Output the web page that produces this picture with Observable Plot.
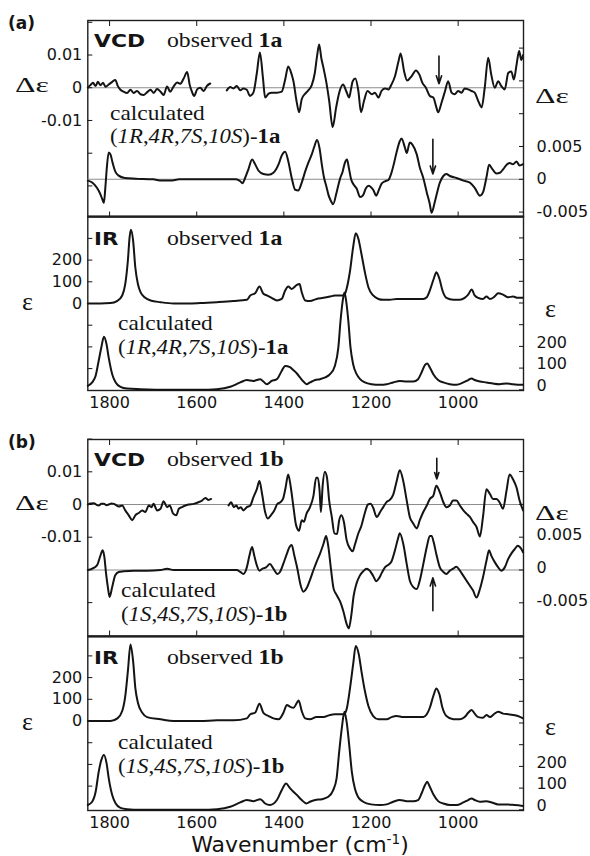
<!DOCTYPE html>
<html><head><meta charset="utf-8">
<script src="https://cdn.jsdelivr.net/npm/d3@7"></script>
<script src="https://cdn.jsdelivr.net/npm/@observablehq/plot@0.6"></script>
<style>
body{margin:0;background:#fff;}
#chart{position:relative;width:590px;height:856px;overflow:hidden;background:#fff;}
</style></head><body><div id="chart"></div>
<script>
// ---------- axis values ----------
const xDomain = [1850, 850];
const xTicks = [1800, 1600, 1400, 1200, 1000];
const vcdObsTicks = [0.02, 0.01, 0, -0.01, -0.02, -0.03];
const vcdObsLabels = [[0.01, "0.01"], [0, "0"], [-0.01, "-0.01"]];
const vcdCalcTicksA = [0.02, 0.015, 0.01, 0.005, 0, -0.005];
const vcdCalcTicksB = [0.015, 0.01, 0.005, 0, -0.005];
const vcdCalcLabels = [[0.005, "0.005"], [0, "0"], [-0.005, "-0.005"]];
const irObsTicks = [300, 200, 100, 0, -100, -200, -300];
const irObsLabels = [[200, "200"], [100, "100"], [0, "0"]];
const irCalcTicks = [700, 600, 500, 400, 300, 200, 100, 0];
const irCalcLabels = [[200, "200"], [100, "100"], [0, "0"]];

// ---------- texts ----------
const panelTags = ["(a)", "(b)"];
const compounds = ["1a", "1b"];
const configA = ["1R", "4R", "7S", "10S"];
const configB = ["1S", "4S", "7S", "10S"];
const xTitle = ["Wavenumber (cm", "-1", ")"];

// ---------- series: [wavenumber, value] ----------
const vcdObsA = [[1850,0],[1844,0.0008],[1838,0.0015],[1832,0.0005],[1827,0.0018],[1821,0.0008],[1815,0.0015],[1809,0.0003],[1802,0.001],[1794,0.0018],[1787,0.0024],[1781,0.0005],[1775,-0.0006],[1768,-0.0012],[1760,-0.0016],[1752,-0.0006],[1745,-0.0016],[1737,-0.001],[1729,-0.002],[1722,-0.0022],[1714,-0.0014],[1706,-0.0006],[1699,-0.0016],[1691,-0.0004],[1683,-0.0012],[1676,-0.0022],[1668,0.0004],[1661,-0.0012],[1653,0.0004],[1645,0.0016],[1638,0.0012],[1630,0.0028],[1622,0.0048],[1616,0.0008],[1611,-0.0012],[1606,-0.0025],[1599,-0.0005],[1592,0],[1584,-0.001],[1577,0.0005],[1569,0.0013],[1550,null],[1531,-0.0008],[1523,0.0002],[1516,-0.0002],[1508,0.0005],[1500,-0.0008],[1493,-0.0002],[1485,-0.0006],[1478,-0.0025],[1470,-0.0015],[1462,0.0045],[1455,0.0108],[1448,0.003],[1443,-0.003],[1435,-0.0018],[1428,-0.0015],[1416,-0.0015],[1405,-0.0012],[1397,0.0025],[1390,0.0065],[1382,0.004],[1378,0.002],[1371,-0.004],[1365,-0.0075],[1359,-0.0035],[1351,-0.0018],[1344,-0.0008],[1336,0.0008],[1329,0.0045],[1324,0.0095],[1319,0.0132],[1314,0.009],[1309,0.006],[1303,0.002],[1296,-0.004],[1288,-0.012],[1280,-0.006],[1273,-0.0015],[1264,0.001],[1257,-0.001],[1250,-0.003],[1246,-0.0005],[1242,0.002],[1236,0.0028],[1229,-0.001],[1223,-0.0075],[1216,-0.004],[1208,-0.001],[1198,-0.002],[1191,-0.0015],[1183,-0.003],[1176,-0.001],[1168,-0.0002],[1160,-0.0005],[1153,0.001],[1145,0.0035],[1137,0.008],[1132,0.0105],[1124,0.005],[1117,0.0022],[1107,0.0035],[1097,0.0053],[1089,0.004],[1082,0.0015],[1074,0],[1065,-0.0025],[1057,-0.003],[1050,-0.006],[1046,-0.0075],[1038,-0.0045],[1030,-0.001],[1023,0.002],[1015,-0.0015],[1008,-0.002],[1000,-0.001],[992,-0.0015],[985,-0.0002],[977,-0.0005],[969,-0.001],[962,-0.0015],[954,-0.004],[946,-0.006],[939,0],[931,0.0092],[924,0.004],[916,0],[908,0.002],[901,0.0005],[893,-0.0005],[885,0.0045],[878,0.005],[872,0.0025],[866,0.007],[860,0.0112],[855,0.0085],[851,0.01]];

const vcdCalcA = [[1850,-0.0002],[1840,-0.0005],[1829,-0.0013],[1821,-0.0023],[1817,-0.003],[1813,-0.0036],[1810,-0.0015],[1806,0.002],[1802,0.0041],[1798,0.0038],[1793,0.0025],[1787,0.0012],[1780,0.0006],[1765,0.0002],[1740,0.0001],[1700,0],[1680,-0.0002],[1660,-0.0002],[1640,0],[1600,0],[1550,0],[1510,0],[1500,-0.0003],[1495,-0.0006],[1489,0.0002],[1481,0.0016],[1473,0.003],[1466,0.0023],[1458,0.0013],[1447,0.0008],[1435,0.0007],[1424,0.001],[1412,0.0023],[1405,0.0036],[1397,0.0042],[1390,0.0028],[1382,0.0002],[1374,-0.0016],[1367,-0.0017],[1359,-0.0005],[1351,0.0012],[1344,0.0025],[1336,0.0038],[1330,0.005],[1324,0.006],[1318,0.0047],[1313,0.0023],[1308,0.0003],[1302,-0.0012],[1298,-0.0023],[1292,-0.0033],[1287,-0.0038],[1279,-0.002],[1271,0.0001],[1265,0.0012],[1260,0.0025],[1255,0.003],[1251,0.0018],[1246,0.0001],[1240,-0.0008],[1233,-0.0014],[1225,-0.0027],[1218,-0.0024],[1212,-0.0014],[1205,-0.001],[1200,-0.0012],[1195,-0.0016],[1188,-0.0025],[1183,-0.0018],[1176,-0.0007],[1168,-0.0003],[1160,-0.0001],[1153,0.001],[1147,0.0025],[1141,0.0042],[1134,0.0058],[1130,0.0062],[1122,0.0048],[1118,0.004],[1111,0.0056],[1105,0.0053],[1095,0.0038],[1088,0.0018],[1080,0.0002],[1072,-0.002],[1065,-0.0038],[1061,-0.0051],[1053,-0.0033],[1042,-0.0005],[1034,0.0005],[1027,0.0008],[1019,0.0005],[1004,0.0002],[988,-0.0002],[973,-0.0005],[962,-0.0013],[950,-0.0025],[943,-0.002],[935,0.0003],[929,0.0022],[921,0.0015],[912,0.0009],[904,0.001],[897,0.0015],[889,0.0022],[882,0.0025],[874,0.0023],[866,0.0027],[859,0.0021],[851,0.0023]];

const irObsA = [[1850,0],[1821,0],[1798,2],[1783,11],[1771,37],[1764,90],[1758,198],[1754,307],[1751,340],[1746,290],[1741,167],[1735,90],[1729,52],[1718,26],[1706,14],[1683,6],[1653,0],[1622,0],[1592,2],[1554,6],[1516,11],[1485,17],[1477,37],[1466,47],[1456,78],[1447,45],[1439,37],[1428,26],[1416,14],[1405,21],[1397,60],[1390,78],[1382,67],[1370,86],[1364,90],[1359,52],[1351,14],[1340,11],[1325,21],[1309,26],[1294,32],[1283,37],[1262,37],[1256,68],[1248,152],[1241,260],[1235,324],[1229,298],[1222,229],[1214,144],[1206,75],[1195,37],[1183,21],[1172,17],[1157,17],[1141,21],[1126,21],[1111,21],[1095,21],[1080,21],[1072,29],[1065,60],[1056,114],[1050,144],[1043,114],[1036,60],[1027,26],[1011,17],[996,17],[985,26],[977,41],[969,64],[962,37],[954,26],[943,21],[935,32],[927,21],[918,29],[908,47],[897,41],[885,29],[874,32],[863,26],[851,26]];

const irCalcA = [[1850,18],[1840,34],[1832,65],[1825,134],[1819,195],[1813,244],[1807,210],[1802,148],[1794,72],[1786,34],[1775,14],[1760,6],[1729,3],[1668,0],[1592,0],[1554,3],[1523,14],[1500,34],[1485,45],[1470,41],[1454,49],[1447,38],[1439,26],[1428,41],[1416,49],[1405,87],[1397,110],[1386,104],[1378,90],[1370,75],[1363,57],[1355,38],[1348,26],[1340,34],[1328,45],[1317,49],[1305,57],[1294,72],[1283,110],[1275,194],[1270,317],[1265,409],[1261,448],[1257,409],[1252,317],[1247,194],[1241,118],[1233,72],[1225,49],[1214,34],[1199,26],[1179,23],[1164,26],[1149,34],[1134,41],[1118,38],[1103,38],[1092,49],[1084,80],[1076,115],[1071,121],[1065,103],[1057,72],[1046,45],[1034,34],[1019,26],[1004,23],[988,34],[977,45],[969,52],[962,45],[950,38],[935,34],[920,29],[905,26],[889,29],[874,26],[859,23],[851,23]];

const vcdObsB = [[1850,0],[1843,0.0003],[1836,0.0004],[1830,-0.0001],[1825,-0.0003],[1819,0.0002],[1813,0.0002],[1807,-0.0002],[1802,0],[1796,0.0003],[1790,0.0002],[1785,-0.0002],[1779,-0.0006],[1771,-0.0003],[1764,-0.0018],[1756,-0.0033],[1748,-0.0048],[1741,-0.0033],[1733,-0.0026],[1725,-0.0018],[1718,-0.0023],[1710,-0.0003],[1704,-0.0008],[1699,0.0002],[1691,-0.0018],[1683,-0.0013],[1676,0.001],[1668,-0.0008],[1662,-0.0003],[1654,-0.0028],[1647,-0.0033],[1641,-0.0013],[1634,-0.0008],[1626,-0.0003],[1619,0],[1607,0.0002],[1596,0.0007],[1588,0.0012],[1580,0.002],[1573,0.0014],[1567,0.0017],[1550,null],[1527,-0.0003],[1521,0.0007],[1515,-0.0008],[1509,-0.0003],[1504,-0.0013],[1499,-0.0008],[1493,-0.0018],[1485,-0.0008],[1477,-0.0003],[1470,0.0022],[1462,0.0047],[1456,0.0072],[1450,0.0032],[1443,-0.0023],[1437,-0.0043],[1430,-0.0033],[1422,-0.0018],[1415,0.0002],[1408,0.0007],[1402,0.0017],[1396,0.0052],[1390,0.0092],[1384,0.0052],[1378,-0.0008],[1372,-0.0063],[1365,-0.008],[1359,-0.0048],[1354,-0.0053],[1348,-0.0028],[1340,-0.0008],[1332,0.0027],[1326,0.0082],[1322,0.0082],[1318,0.0042],[1315,-0.0023],[1311,0.0057],[1306,0.01],[1301,0.0082],[1296,0.0012],[1290,-0.0038],[1284,-0.0088],[1278,-0.009],[1273,-0.0048],[1268,-0.0033],[1262,-0.0055],[1256,-0.0108],[1248,-0.0135],[1242,-0.0143],[1237,-0.0123],[1229,-0.0088],[1222,-0.0065],[1214,-0.0025],[1207,0],[1201,0.0002],[1195,-0.001],[1187,-0.0038],[1179,-0.0023],[1172,-0.0008],[1164,0.0008],[1157,0.0014],[1149,0.003],[1141,0.0072],[1134,0.0105],[1126,0.0072],[1118,0.0012],[1111,-0.0038],[1103,-0.0058],[1095,-0.0073],[1088,-0.0048],[1080,-0.0023],[1072,-0.0003],[1065,0.0017],[1057,0.0027],[1050,0.0057],[1042,0.0037],[1034,0.0007],[1027,-0.0008],[1019,-0.0003],[1012,0.0012],[1004,0.0012],[996,-0.0003],[988,-0.0018],[981,-0.0028],[973,-0.0038],[966,-0.0053],[958,-0.0068],[950,-0.0098],[943,-0.0038],[935,0.0047],[927,0.0032],[920,0.0017],[912,0.0017],[905,0.0007],[897,-0.0013],[889,0.0042],[882,0.0092],[874,0.0077],[866,0.0052],[859,0.0012],[851,-0.0018]];

const vcdCalcB = [[1850,0],[1840,0.0002],[1829,0.0007],[1821,0.0022],[1816,0.003],[1812,0.002],[1808,-0.0006],[1804,-0.0026],[1800,-0.0041],[1794,-0.0026],[1787,-0.0008],[1779,-0.0003],[1768,-0.0002],[1745,-0.0001],[1714,-0.0001],[1683,0],[1668,0.0002],[1653,0],[1600,0],[1550,0],[1508,0],[1500,-0.0003],[1493,-0.0006],[1485,0.0004],[1479,0.0022],[1473,0.0035],[1468,0.0022],[1462,0.0007],[1456,-0.0001],[1449,0.0002],[1441,0.0004],[1432,0.0009],[1424,0.0002],[1415,-0.0006],[1409,-0.0003],[1401,0.001],[1393,0.0025],[1387,0.0035],[1382,0.0038],[1376,0.0022],[1369,0.0002],[1362,-0.0022],[1355,-0.0033],[1348,-0.0028],[1340,-0.0015],[1332,0],[1324,0.0014],[1317,0.0025],[1309,0.004],[1303,0.0052],[1298,0.0036],[1292,0.0002],[1286,-0.0028],[1279,-0.0038],[1271,-0.0048],[1263,-0.0064],[1256,-0.0082],[1251,-0.0089],[1245,-0.0068],[1240,-0.004],[1233,-0.002],[1226,-0.0009],[1218,-0.0002],[1210,0.0002],[1203,-0.0001],[1195,-0.0009],[1188,-0.0017],[1181,-0.0012],[1175,-0.0004],[1168,0.0004],[1160,0.0008],[1153,0.0013],[1145,0.003],[1138,0.0048],[1134,0.0056],[1126,0.004],[1118,0.0009],[1111,-0.0016],[1103,-0.0026],[1095,-0.0029],[1088,-0.0016],[1080,0.0009],[1072,0.0035],[1065,0.0052],[1061,0.0052],[1056,0.0042],[1050,0.0024],[1042,0.0004],[1034,-0.0003],[1027,-0.0006],[1019,-0.0001],[1011,0.0002],[1004,0.0005],[996,-0.0001],[988,-0.0009],[981,-0.0016],[973,-0.0024],[966,-0.0031],[958,-0.0042],[950,-0.0029],[943,-0.0011],[935,0.0014],[929,0.003],[924,0.0022],[916,0.0012],[908,0.0004],[901,-0.0001],[893,0.0004],[885,0.0017],[878,0.0025],[870,0.0032],[863,0.0037],[855,0.0032],[851,0.0027]];

const irObsB = [[1850,0],[1798,0],[1782,12],[1771,46],[1764,115],[1758,230],[1752,353],[1746,276],[1741,154],[1735,84],[1725,38],[1714,18],[1683,8],[1653,0],[1592,0],[1553,3],[1515,3],[1485,12],[1477,31],[1466,38],[1456,80],[1447,38],[1435,23],[1424,12],[1412,8],[1401,38],[1393,74],[1386,66],[1378,61],[1370,84],[1366,95],[1359,46],[1351,12],[1340,8],[1325,18],[1309,18],[1294,28],[1283,31],[1262,31],[1256,54],[1248,154],[1241,261],[1235,346],[1228,307],[1222,230],[1214,138],[1206,69],[1195,23],[1183,8],[1164,8],[1153,18],[1141,23],[1126,18],[1111,18],[1095,18],[1080,18],[1072,31],[1065,61],[1057,115],[1050,150],[1043,123],[1036,61],[1027,23],[1011,8],[996,8],[985,18],[977,38],[969,51],[962,34],[954,18],[943,15],[935,28],[927,18],[918,31],[908,43],[897,34],[885,31],[874,28],[863,23],[851,12]];

const irCalcB = [[1850,22],[1840,37],[1832,83],[1825,175],[1819,229],[1813,252],[1807,215],[1802,146],[1794,68],[1786,29],[1775,9],[1760,3],[1729,0],[1592,0],[1553,3],[1523,14],[1500,34],[1485,45],[1470,40],[1454,49],[1443,29],[1432,22],[1416,45],[1405,90],[1395,121],[1386,100],[1378,83],[1370,68],[1359,45],[1348,29],[1340,37],[1328,45],[1313,49],[1298,60],[1287,90],[1279,145],[1273,268],[1267,376],[1261,452],[1256,406],[1250,298],[1244,175],[1237,98],[1230,60],[1218,37],[1200,25],[1179,22],[1164,25],[1149,37],[1134,45],[1118,40],[1103,40],[1092,45],[1084,75],[1076,114],[1071,129],[1065,106],[1056,68],[1046,40],[1034,29],[1019,22],[1004,22],[988,34],[977,45],[969,52],[962,45],[950,37],[935,40],[923,34],[908,25],[889,25],[870,22],[851,18]];

// arrows marking the ~1050 cm-1 band
const arrowObsA = [{x: 1044, y1: 0.0097, y2: 0.0012}];
const arrowCalcA = [{x: 1058, y1: 0.0061, y2: 0.0008}];
const arrowObsB = [{x: 1049, y1: 0.0141, y2: 0.0078}];
const arrowCalcB = [{x: 1058, y1: -0.0062, y2: -0.0012}];

// ---------- layout ----------
const panels = [
  {vcdTop: 19.5, vcdH: 196.5, irTop: 216, irH: 174,
   vcdObsDomain: [-0.0395, 0.02055], vcdCalcDomain: [-0.00575, 0.02421],
   irObsDomain: [-400.9, 400.9], irCalcDomain: [-3.2, 798.6],
   vcdObs: vcdObsA, vcdCalc: vcdCalcA, irObs: irObsA, irCalc: irCalcA,
   arrowObs: arrowObsA, arrowCalc: arrowCalcA, calcTicks: vcdCalcTicksA, calcDy: 0},
  {vcdTop: 439, vcdH: 196.5, irTop: 635.5, irH: 174,
   vcdObsDomain: [-0.04021, 0.01988], vcdCalcDomain: [-0.01006, 0.01989],
   irObsDomain: [-412.4, 389.4], irCalcDomain: [-3.2, 798.6],
   vcdObs: vcdObsB, vcdCalc: vcdCalcB, irObs: irObsB, irCalc: irCalcB,
   arrowObs: arrowObsB, arrowCalc: arrowCalcB, calcTicks: vcdCalcTicksB, calcDy: -2}
];

const chart = document.getElementById("chart");
const INK = "#141414";

function layer(top, height, xOpt, yOpt, marks) {
  const mt = 8, mb = 8;
  const svg = Plot.plot({
    width: 590, height: height + mt + mb,
    marginTop: mt, marginBottom: mb, marginLeft: 87.3, marginRight: 67,
    x: {domain: xDomain, label: null, ...xOpt},
    y: {label: null, ...yOpt},
    style: {background: "transparent", fontFamily: "DejaVu Sans", fontSize: "16px", color: INK, overflow: "visible"},
    marks
  });
  svg.style.position = "absolute";
  svg.style.left = "0px";
  svg.style.top = (top - mt) + "px";
  chart.appendChild(svg);
}
const lookup = (pairs) => { const m = new Map(pairs); return d => m.get(d) ?? ""; };
const spec = (data) => Plot.line(data, {x: d => d[0], y: d => d[1], stroke: INK, strokeWidth: 2, curve: "monotone-x"});
const zero = () => Plot.ruleY([0], {stroke: "#8c8c8c", strokeWidth: 1.1});
const arrow = (data) => Plot.arrow(data, {x1: "x", x2: "x", y1: "y1", y2: "y2", stroke: INK, strokeWidth: 1.6, headLength: 8, headAngle: 36});
const blank = () => "";

panels.forEach((P) => {
  // VCD observed (left axis)
  layer(P.vcdTop, P.vcdH, {}, {domain: P.vcdObsDomain}, [
    zero(),
    spec(P.vcdObs),
    arrow(P.arrowObs),
    Plot.axisY(vcdObsTicks, {anchor: "left", tickSize: -5, tickFormat: blank}),
    Plot.axisY(vcdObsLabels.map(d => d[0]), {anchor: "left", tickSize: 0, tickPadding: 5.5, tickFormat: lookup(vcdObsLabels)}),
    Plot.axisX(xTicks, {anchor: "top", tickSize: -5, tickFormat: blank}),
    Plot.axisX(xTicks, {anchor: "bottom", tickSize: -5, tickFormat: blank}),
    Plot.frame({stroke: "#1e1e1e", strokeWidth: 1.4})
  ]);
  // VCD calculated (right axis)
  layer(P.vcdTop, P.vcdH, {axis: null}, {domain: P.vcdCalcDomain}, [
    zero(),
    spec(P.vcdCalc),
    arrow(P.arrowCalc),
    Plot.axisY(P.calcTicks, {anchor: "right", tickSize: -5, tickFormat: blank}),
    Plot.axisY(vcdCalcLabels.map(d => d[0]), {anchor: "right", tickSize: 0, tickPadding: 13, dy: P.calcDy, tickFormat: lookup(vcdCalcLabels)})
  ]);
  // IR observed (left axis) + wavenumber tick labels
  layer(P.irTop, P.irH, {}, {domain: P.irObsDomain}, [
    spec(P.irObs),
    Plot.axisY(irObsTicks, {anchor: "left", tickSize: -5, tickFormat: blank}),
    Plot.axisY(irObsLabels.map(d => d[0]), {anchor: "left", tickSize: 0, tickPadding: 5.5, tickFormat: lookup(irObsLabels)}),
    Plot.axisX(xTicks, {anchor: "bottom", tickSize: 0, tickPadding: 6, tickFormat: d => String(d)}),
    Plot.frame({stroke: "#1e1e1e", strokeWidth: 1.4}),
    Plot.ruleY([P.irObsDomain[1]], {stroke: "#1e1e1e", strokeWidth: 2.2})
  ]);
  // IR calculated (right axis)
  layer(P.irTop, P.irH, {axis: null}, {domain: P.irCalcDomain}, [
    spec(P.irCalc),
    Plot.axisY(irCalcTicks, {anchor: "right", tickSize: -5, tickFormat: blank}),
    Plot.axisY(irCalcLabels.map(d => d[0]), {anchor: "right", tickSize: 0, tickPadding: 13, dy: -4, tickFormat: lookup(irCalcLabels)})
  ]);
});

// ---------- text annotations ----------
const over = d3.create("svg").attr("width", 590).attr("height", 856)
  .style("position", "absolute").style("left", "0px").style("top", "0px").style("overflow", "visible");
chart.appendChild(over.node());
const SERIF = "Liberation Serif", SANS = "DejaVu Sans";
function addText(x, y, parts, size, family, sx = 1, anchor = "start") {
  const t = over.append("text")
    .attr("transform", `translate(${x},${y}) scale(${sx},1)`)
    .attr("font-family", family).attr("font-size", size).attr("fill", INK).attr("text-anchor", anchor);
  let shifted = false;
  for (const [s, st] of parts) {
    const ts = t.append("tspan").text(s);
    if (st === "b") ts.attr("font-weight", "bold");
    if (st === "i") ts.attr("font-style", "italic");
    if (st === "sup") { ts.attr("font-size", size * 0.62).attr("dy", -size * 0.38); shifted = true; }
    else if (shifted) { ts.attr("dy", size * 0.38); shifted = false; }
  }
}
function configParts(cfg, cmp) {
  const parts = [["(", "n"]];
  cfg.forEach((c, i) => { parts.push([c, "i"]); if (i < cfg.length - 1) parts.push([",", "n"]); });
  parts.push([")-", "n"], [cmp, "b"]);
  return parts;
}
const labelPos = [
  {tag: 29, vcd: 47, ir: 245, dL: 92, dR: 103, eL: 310, eR: 317,
   vcalc: [110, 119.5, 142.5], icalc: [118, 330, 353.5], cfg: configA},
  {tag: 448, vcd: 466, ir: 663.5, dL: 510, dR: 519.5, eL: 730, eR: 735,
   vcalc: [121, 597, 620.5], icalc: [118, 749, 772.5], cfg: configB}
];
const CS = 20, CX = 1.17;
labelPos.forEach((L, k) => {
  addText(8, L.tag, [[panelTags[k], "b"]], 17, SANS);
  addText(94, L.vcd, [["VCD", "b"]], 18.5, SANS, 1.18);
  addText(167, L.vcd, [["observed ", "n"], [compounds[k], "b"]], 21, SERIF, 1.13);
  addText(94, L.ir, [["IR", "b"]], 18.5, SANS, 1.15);
  addText(167, L.ir, [["observed ", "n"], [compounds[k], "b"]], 21, SERIF, 1.13);
  addText(L.vcalc[0], L.vcalc[1], [["calculated", "n"]], CS, SERIF, CX);
  addText(L.vcalc[0], L.vcalc[2], configParts(L.cfg, compounds[k]), CS, SERIF, CX - 0.03);
  addText(L.icalc[0], L.icalc[1], [["calculated", "n"]], CS, SERIF, CX);
  addText(L.icalc[0], L.icalc[2], configParts(L.cfg, compounds[k]), CS, SERIF, CX - 0.03);
  addText(15, L.dL, [["Δε", "n"]], 22, SERIF, 1.45);
  addText(535, L.dR, [["Δε", "n"]], 22, SERIF, 1.45);
  addText(22, L.eL, [["ε", "n"]], 26, SERIF);
  addText(545, L.eR, [["ε", "n"]], 26, SERIF);
});
addText(300, 852, [[xTitle[0], "n"], [xTitle[1], "sup"], [xTitle[2], "n"]], 22, SANS, 1, "middle");
</script></body></html>
